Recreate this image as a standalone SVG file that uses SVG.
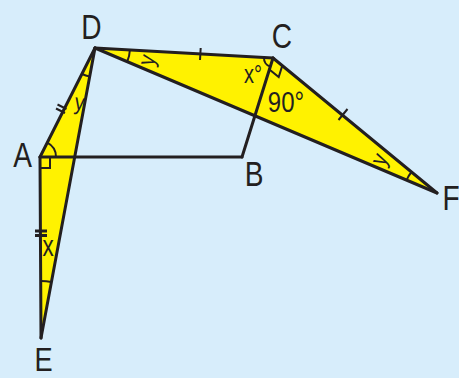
<svg xmlns="http://www.w3.org/2000/svg" width="459" height="378" viewBox="0 0 459 378">
<style>
.ln{stroke:#231f20;stroke-width:3;fill:none;stroke-linejoin:round;stroke-linecap:round}
.thin{stroke:#231f20;stroke-width:2;fill:none}
.fill{fill:#fff200;stroke:none}
.lbl{font-family:"Liberation Sans",Arial,sans-serif;fill:#231f20;text-anchor:middle}
</style>
<rect x="0" y="0" width="459" height="378" fill="#d7edfb"/>
<g id="shading">
<polygon class="fill" points="95,48 273,58 437,193"/>
<polygon class="fill" points="40,157 95,48 41,338"/>
</g>
<g id="connectors">
<line class="ln" x1="95" y1="48" x2="273" y2="58"/>
<line class="ln" x1="273" y1="58" x2="437" y2="193"/>
<line class="ln" x1="95" y1="48" x2="437" y2="193"/>
<line class="ln" x1="40" y1="157" x2="95" y2="48"/>
<line class="ln" x1="95" y1="48" x2="41" y2="338"/>
<line class="ln" x1="40" y1="157" x2="41" y2="338"/>
<line class="ln" x1="40" y1="157" x2="242" y2="157"/>
<line class="ln" x1="273" y1="58" x2="242" y2="157"/>
</g>
<g id="marks">
<path class="thin" d="M129.9,50 A35,35 0 0 1 127.2,61.7"/>
<path class="thin" d="M411.5,172 A33,33 0 0 0 406.6,180.1"/>
<path class="thin" d="M82,74 A29,29 0 0 0 89.7,76.5"/>
<path class="thin" d="M47.2,142.7 A16,16 0 0 1 56,157"/>
<path class="thin" d="M41,281 A57,57 0 0 1 51.4,282"/>
<path class="thin" d="M270.3,66.6 A9,9 0 0 1 264,57.5"/>
<polyline class="thin" points="282.3,65.6 278.7,77 269.4,69.4"/>
<polyline class="thin" points="40,168 50,168 50,157"/>
<line class="thin" x1="200.7" y1="48" x2="200" y2="60"/>
<line class="thin" x1="347.5" y1="109" x2="338.5" y2="120"/>
<line class="thin" x1="57.5" y1="104.5" x2="66.5" y2="109"/>
<line class="thin" x1="56" y1="108.5" x2="65" y2="113"/>
<line class="ln" x1="35" y1="231" x2="47" y2="231" style="stroke-linecap:butt"/>
<line class="ln" x1="35" y1="235.5" x2="47" y2="235.5" style="stroke-linecap:butt"/>
</g>
<g id="node-D"><text class="lbl" font-size="36" transform="translate(91.5,39) scale(0.78,1)">D</text></g>
<g id="node-C"><text class="lbl" font-size="36" transform="translate(282,48) scale(0.78,1)">C</text></g>
<g id="node-A"><text class="lbl" font-size="36" transform="translate(22.5,167) scale(0.78,1)">A</text></g>
<g id="node-B"><text class="lbl" font-size="36" transform="translate(254,186) scale(0.78,1)">B</text></g>
<g id="node-E"><text class="lbl" font-size="34" transform="translate(43.5,371) scale(0.8,1)">E</text></g>
<g id="node-F"><text class="lbl" font-size="36" transform="translate(451,210) scale(0.78,1)">F</text></g>
<g id="angle-labels">
<text class="lbl" font-size="23" transform="translate(78.5,110) rotate(8) scale(0.85,1)">y</text>
<text class="lbl" font-size="30" transform="translate(48,256) scale(0.75,1)">x</text>
<text class="lbl" font-size="25" transform="translate(253,83) scale(0.8,1)">x°</text>
<text class="lbl" font-size="30" transform="translate(286,112) scale(0.8,1)">90°</text>
<text class="lbl" font-size="24" transform="translate(151,61) rotate(-75) translate(0,3.7) scale(0.85,1)">y</text>
<text class="lbl" font-size="24" transform="translate(383,161) rotate(-65) translate(0,3.7) scale(0.85,1)">y</text>
</g>
</svg>
